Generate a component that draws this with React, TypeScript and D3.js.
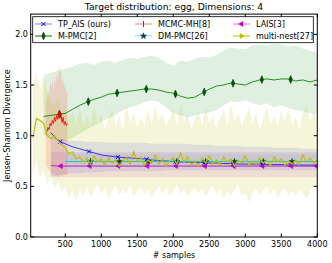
import React, { useEffect, useRef } from 'react';
import * as d3 from 'd3';

// chart data
const xTicks = [500, 1000, 1500, 2000, 2500, 3000, 3500, 4000];
const yTicks = [0, 0.5, 1.0, 1.5, 2.0];

const names = ['TP_AIS (ours)', 'MCMC-MH[8]', 'LAIS[3]', 'M-PMC[2]', 'DM-PMC[26]', 'multi-nest[27]'];

// TP_AIS
const tpSamples = d3.range(300, 4001, 100);
const tpMean = [1.03, 0.95, 0.92, 0.89, 0.87, 0.85, 0.83, 0.81, 0.80, 0.79, 0.785, 0.78, 0.775, 0.77, 0.76, 0.755, 0.75, 0.745, 0.74, 0.74,
  0.735, 0.735, 0.73, 0.73, 0.725, 0.725, 0.72, 0.72, 0.72, 0.72, 0.715, 0.715, 0.715, 0.71, 0.71, 0.71, 0.71, 0.71];
const tpUpper = [0.99, 0.97, 0.96, 0.95, 0.95, 0.94, 0.94, 0.94, 0.93, 0.93, 0.93, 0.93, 0.93, 0.93, 0.92, 0.92, 0.92, 0.92, 0.92, 0.92,
  0.91, 0.91, 0.91, 0.90, 0.90, 0.90, 0.90, 0.89, 0.89, 0.89, 0.89, 0.88, 0.88, 0.88, 0.88, 0.87, 0.87, 0.87];
const tpLower = [0.60, 0.61, 0.62, 0.63, 0.63, 0.64, 0.64, 0.64, 0.65, 0.65, 0.65, 0.65, 0.65, 0.65, 0.65, 0.65, 0.66, 0.66, 0.66, 0.66,
  0.66, 0.66, 0.66, 0.66, 0.66, 0.66, 0.66, 0.66, 0.66, 0.66, 0.66, 0.66, 0.66, 0.66, 0.66, 0.66, 0.66, 0.66];
const tpMarks = [430, 830, 1230, 1630, 2030, 2430, 2830, 3230, 3630];

// MCMC-MH
const mhSamples = d3.range(230, 531, 15);
const mhMean = [1.01, 1.04, 1.08, 1.06, 1.12, 1.10, 1.15, 1.12, 1.18, 1.14, 1.20, 1.16, 1.24, 1.19, 1.22, 1.13, 1.18, 1.11, 1.14, 1.10, 1.12];
const mhUpper = [1.30, 1.38, 1.45, 1.40, 1.52, 1.48, 1.55, 1.45, 1.58, 1.50, 1.62, 1.55, 1.73, 1.60, 1.68, 1.52, 1.58, 1.45, 1.52, 1.42, 1.45];
const mhLower = [0.72, 0.70, 0.66, 0.68, 0.63, 0.65, 0.61, 0.64, 0.60, 0.62, 0.59, 0.61, 0.58, 0.60, 0.62, 0.59, 0.63, 0.60, 0.62, 0.61, 0.63];
const mhMarks = [430];

// LAIS
const laisSamples = d3.range(300, 4001, 100);
const laisMean = [0.705, 0.70, 0.70, 0.70, 0.70, 0.70, 0.70, 0.70, 0.70, 0.70, 0.70, 0.70, 0.70, 0.70, 0.70, 0.70, 0.70, 0.70, 0.70, 0.70,
  0.70, 0.70, 0.70, 0.70, 0.70, 0.70, 0.70, 0.70, 0.70, 0.70, 0.70, 0.70, 0.70, 0.70, 0.70, 0.70, 0.70, 0.70];
const laisUpper = [0.84, 0.84, 0.84, 0.84, 0.84, 0.84, 0.84, 0.84, 0.84, 0.84, 0.84, 0.84, 0.84, 0.84, 0.84, 0.84, 0.84, 0.84, 0.84, 0.84,
  0.84, 0.84, 0.84, 0.84, 0.84, 0.84, 0.84, 0.84, 0.84, 0.84, 0.84, 0.84, 0.84, 0.84, 0.84, 0.84, 0.84, 0.84];
const laisLower = [0.59, 0.59, 0.59, 0.59, 0.59, 0.59, 0.59, 0.59, 0.59, 0.59, 0.59, 0.59, 0.59, 0.59, 0.59, 0.59, 0.59, 0.59, 0.59, 0.59,
  0.59, 0.59, 0.59, 0.59, 0.59, 0.59, 0.59, 0.59, 0.59, 0.59, 0.59, 0.59, 0.59, 0.59, 0.59, 0.59, 0.59, 0.59];
const laisMarks = [440, 840, 1240, 1640, 2040, 2440, 2840, 3240, 3640, 3990];

// M-PMC
const pmcSamples = d3.range(200, 4001, 100);
const pmcMean = [1.19, 1.20, 1.21, 1.22, 1.26, 1.30, 1.33, 1.36, 1.38, 1.41, 1.42, 1.43, 1.44, 1.45, 1.46, 1.46, 1.45, 1.43, 1.42, 1.39,
  1.37, 1.38, 1.42, 1.46, 1.49, 1.50, 1.52, 1.51, 1.50, 1.53, 1.55, 1.56, 1.55, 1.56, 1.56, 1.54, 1.55, 1.53, 1.55];
const pmcUpper = [1.60, 1.62, 1.64, 1.66, 1.68, 1.71, 1.72, 1.70, 1.73, 1.74, 1.72, 1.75, 1.77, 1.76, 1.78, 1.79, 1.77, 1.72, 1.69, 1.74,
  1.73, 1.76, 1.78, 1.77, 1.80, 1.84, 1.87, 1.86, 1.85, 1.89, 1.90, 1.89, 1.91, 1.90, 1.88, 1.89, 1.86, 1.84, 1.82];
const pmcLower = [1.02, 0.98, 0.95, 0.95, 0.98, 1.02, 1.06, 1.10, 1.14, 1.17, 1.21, 1.25, 1.28, 1.30, 1.33, 1.35, 1.33, 1.28, 1.22, 1.20,
  1.18, 1.20, 1.22, 1.23, 1.25, 1.30, 1.34, 1.33, 1.35, 1.32, 1.30, 1.32, 1.28, 1.30, 1.27, 1.25, 1.24, 1.22, 1.22];
const pmcMarks = [420, 820, 1220, 1625, 2030, 2430, 2830, 3230, 3630];

// DM-PMC
const dmSamples = d3.range(500, 4001, 100);
const dmMean = [0.745, 0.745, 0.745, 0.745, 0.745, 0.745, 0.745, 0.745, 0.745, 0.745, 0.745, 0.745, 0.745, 0.745, 0.745, 0.745, 0.745, 0.745,
  0.745, 0.745, 0.745, 0.745, 0.745, 0.745, 0.745, 0.745, 0.745, 0.745, 0.745, 0.745, 0.745, 0.745, 0.745, 0.745, 0.745, 0.745];
const dmUpper = [0.82, 0.82, 0.82, 0.82, 0.82, 0.82, 0.82, 0.82, 0.82, 0.82, 0.82, 0.82, 0.82, 0.82, 0.82, 0.82, 0.82, 0.82,
  0.82, 0.82, 0.82, 0.82, 0.82, 0.82, 0.82, 0.82, 0.82, 0.82, 0.82, 0.82, 0.82, 0.82, 0.82, 0.82, 0.82, 0.82];
const dmLower = [0.69, 0.69, 0.69, 0.69, 0.69, 0.69, 0.69, 0.69, 0.69, 0.69, 0.69, 0.69, 0.69, 0.69, 0.69, 0.69, 0.69, 0.69,
  0.69, 0.69, 0.69, 0.69, 0.69, 0.69, 0.69, 0.69, 0.69, 0.69, 0.69, 0.69, 0.69, 0.69, 0.69, 0.69, 0.69, 0.69];
const dmMarks = [850, 1250, 1650, 2050, 2450, 2850, 3250, 3650];

// multi-nest
const nestSamples = d3.range(50, 4001, 50);
const nestMean = [0.98, 1.17, 1.15, 1.12, 1.00, 0.97, 1.00, 0.95, 0.91, 0.88, 0.82, 0.84, 0.77, 0.79, 0.74, 0.78, 0.72, 0.80, 0.74, 0.77,
  0.71, 0.78, 0.73, 0.76, 0.70, 0.75, 0.78, 0.72, 0.84, 0.74, 0.79, 0.71, 0.76, 0.73, 0.81, 0.72, 0.77, 0.70, 0.75, 0.78,
  0.72, 0.83, 0.74, 0.79, 0.71, 0.75, 0.70, 0.78, 0.73, 0.80, 0.72, 0.76, 0.71, 0.79, 0.74, 0.77, 0.70, 0.76, 0.73, 0.80,
  0.71, 0.75, 0.72, 0.78, 0.73, 0.76, 0.70, 0.79, 0.74, 0.77, 0.71, 0.75, 0.72, 0.76, 0.71, 0.81, 0.74, 0.78, 0.73, 0.76];
const nestUpper = [1.50, 1.62, 1.45, 1.58, 1.42, 1.35, 1.28, 1.38, 1.22, 1.30, 1.15, 1.25, 1.12, 1.28, 1.10, 1.20, 1.08, 1.30, 1.12, 1.22,
  1.06, 1.18, 1.27, 1.10, 1.20, 1.05, 1.31, 1.12, 1.24, 1.08, 1.18, 1.10, 1.25, 1.12, 1.30, 1.15, 1.22, 1.08, 1.17, 1.27,
  1.10, 1.32, 1.14, 1.21, 1.06, 1.16, 1.25, 1.10, 1.28, 1.12, 1.20, 1.07, 1.18, 1.26, 1.11, 1.30, 1.14, 1.23, 1.09, 1.19,
  1.28, 1.12, 1.22, 1.06, 1.17, 1.29, 1.11, 1.20, 1.08, 1.24, 1.13, 1.27, 1.10, 1.19, 1.05, 1.22, 1.30, 1.14, 1.26, 1.18];
const nestLower = [0.62, 0.75, 0.58, 0.66, 0.52, 0.60, 0.48, 0.55, 0.44, 0.50, 0.38, 0.46, 0.36, 0.47, 0.41, 0.50, 0.40, 0.45, 0.53, 0.42,
  0.48, 0.39, 0.46, 0.51, 0.41, 0.47, 0.43, 0.52, 0.40, 0.46, 0.49, 0.42, 0.47, 0.39, 0.45, 0.50, 0.43, 0.48, 0.41, 0.46,
  0.52, 0.42, 0.47, 0.40, 0.45, 0.49, 0.43, 0.47, 0.40, 0.46, 0.50, 0.42, 0.48, 0.38, 0.45, 0.41, 0.47, 0.52, 0.40, 0.44,
  0.34, 0.43, 0.48, 0.41, 0.46, 0.50, 0.42, 0.47, 0.39, 0.45, 0.49, 0.41, 0.46, 0.40, 0.47, 0.43, 0.38, 0.45, 0.50, 0.44];

const W = 332, H = 263;
const font = 'DejaVu Sans, sans-serif';

function valueAt(xs: number[], ys: number[], v: number) {
  const i = Math.max(1, Math.min(xs.length - 1, d3.bisectLeft(xs, v)));
  const t = (v - xs[i - 1]) / (xs[i] - xs[i - 1]);
  return ys[i - 1] + t * (ys[i] - ys[i - 1]);
}

function drawMarker(g: any, kind: string, cx: number, cy: number, color: string, edge: string) {
  if (kind === 'x') {
    g.append('path').attr('d', d3.symbol(d3.symbolTimes, 12)()).attr('transform', `translate(${cx},${cy})`)
      .attr('fill', 'none').attr('stroke', color).attr('stroke-width', 1)
  } else if (kind === '+') {
    g.append('path').attr('d', `M0,-3V3`).attr('transform', `translate(${cx},${cy})`)
      .attr('fill', 'none').attr('stroke', color).attr('stroke-width', 1)
  } else if (kind === 'd') {
    g.append('path').attr('d', d3.symbol(d3.symbolDiamond, 18)()).attr('transform', `translate(${cx},${cy}) scale(0.75,1)`)
      .attr('fill', edge).attr('stroke', edge).attr('stroke-width', 0.8)
  } else if (kind === '*') {
    g.append('path').attr('d', d3.symbol(d3.symbolStar, 12)()).attr('transform', `translate(${cx},${cy})`)
      .attr('fill', edge).attr('stroke', edge).attr('stroke-width', 0.5)
  } else if (kind === '<' || kind === '>') {
    const r = kind === '<' ? -90 : 90
    g.append('path').attr('d', d3.symbol(d3.symbolTriangle, 11)()).attr('transform', `translate(${cx},${cy}) rotate(${r})`)
      .attr('fill', color).attr('stroke', color).attr('stroke-width', 0.5)
  }
}

export default function App() {
  const ref = useRef<SVGSVGElement>(null)

  useEffect(() => {
    const svg = d3.select(ref.current)
    svg.selectAll('*').remove()

    const left = 30.7, right = 317.3, top = 14.1, bottom = 237
    const x = d3.scaleLinear().domain([20, 4000]).range([left, right])
    const y = d3.scaleLinear().domain([0, 2.2]).range([bottom, top])

    const series = [
      { xs: tpSamples, m: tpMean, lo: tpLower, hi: tpUpper, color: '#0000ff', band: 0.1, lineOp: 0.75, marker: 'x', edge: '#0000ff', marks: tpMarks },
      { xs: pmcSamples, m: pmcMean, lo: pmcLower, hi: pmcUpper, color: '#008000', band: 0.12, lineOp: 0.85, marker: 'd', edge: '#0b4d0b', marks: pmcMarks },
      { xs: mhSamples, m: mhMean, lo: mhLower, hi: mhUpper, color: '#ff0000', band: 0.13, lineOp: 0.85, marker: '+', edge: '#ff0000', marks: mhMarks },
      { xs: dmSamples, m: dmMean, lo: dmLower, hi: dmUpper, color: '#00bfbf', band: 0.1, lineOp: 0.85, marker: '*', edge: '#0b3d3d', marks: dmMarks },
      { xs: laisSamples, m: laisMean, lo: laisLower, hi: laisUpper, color: '#bf00bf', band: 0.1, lineOp: 0.85, marker: '<', edge: '#bf00bf', marks: laisMarks },
      { xs: nestSamples, m: nestMean, lo: nestLower, hi: nestUpper, color: '#bfbf00', band: 0.15, lineOp: 1, marker: '>', edge: '#bfbf00', marks: [] as number[] },
    ]

    svg.append('rect').attr('width', W).attr('height', H).attr('fill', '#fff')

    svg.append('defs').append('clipPath').attr('id', 'plotclip')
      .append('rect').attr('x', left).attr('y', top).attr('width', right - left).attr('height', bottom - top)

    const plot = svg.append('g').attr('clip-path', 'url(#plotclip)')

    // bands
    series.forEach(s => {
      plot.append('path')
        .attr('d', d3.area<number>().x(i => x(s.xs[i])).y0(i => y(s.lo[i])).y1(i => y(s.hi[i]))(d3.range(s.xs.length)))
        .attr('fill', s.color).attr('fill-opacity', s.band)
    })
    // lines + markers
    series.forEach(s => {
      plot.append('path')
        .attr('d', d3.line<number>().x(i => x(s.xs[i])).y(i => y(s.m[i]))(d3.range(s.xs.length)))
        .attr('fill', 'none').attr('stroke', s.color).attr('stroke-width', s.marker === '>' ? 1.2 : 1).attr('stroke-opacity', s.lineOp)
      s.marks.forEach(v => drawMarker(plot, s.marker, x(v), y(valueAt(s.xs, s.m, v)), s.color, s.edge))
    })

    // frame and ticks (inside, all four sides)
    svg.append('rect').attr('x', left).attr('y', top).attr('width', right - left).attr('height', bottom - top)
      .attr('fill', 'none').attr('stroke', '#000').attr('stroke-width', 1)
    const tl = 3.5
    xTicks.forEach(t => {
      svg.append('line').attr('x1', x(t)).attr('x2', x(t)).attr('y1', bottom).attr('y2', bottom - tl).attr('stroke', '#000')
      svg.append('line').attr('x1', x(t)).attr('x2', x(t)).attr('y1', top).attr('y2', top + tl).attr('stroke', '#000')
      svg.append('text').attr('x', x(t)).attr('y', bottom + 10).attr('text-anchor', 'middle')
        .attr('font-family', font).attr('font-size', 8).text(t)
    })
    yTicks.forEach(t => {
      svg.append('line').attr('x1', left).attr('x2', left + tl).attr('y1', y(t)).attr('y2', y(t)).attr('stroke', '#000')
      svg.append('line').attr('x1', right).attr('x2', right - tl).attr('y1', y(t)).attr('y2', y(t)).attr('stroke', '#000')
      svg.append('text').attr('x', left - 2.8).attr('y', y(t) + 2.9).attr('text-anchor', 'end')
        .attr('font-family', font).attr('font-size', 8).text(d3.format('.1f')(t))
    })

    // labels
    svg.append('text').attr('x', (left + right) / 2).attr('y', 10).attr('text-anchor', 'middle')
      .attr('font-family', font).attr('font-size', 9.2).text('Target distribution: egg, Dimensions: 4')
    svg.append('text').attr('x', (left + right) / 2).attr('y', 257.5).attr('text-anchor', 'middle')
      .attr('font-family', font).attr('font-size', 8).text('# samples')
    svg.append('text').attr('transform', `translate(9.5,${(top + bottom) / 2}) rotate(-90)`).attr('text-anchor', 'middle')
      .attr('font-family', font).attr('font-size', 8).text('Jensen-Shannon Divergence')

    // legend, 3 columns (matplotlib fills column-wise)
    const lg = svg.append('g')
    lg.append('rect').attr('x', 32.7).attr('y', 16.7).attr('width', 280.6).attr('height', 26)
      .attr('fill', '#fff').attr('stroke', '#000').attr('stroke-width', 0.8)
    const colX = [35, 135, 233]
    const rowY = [24, 36]
    const slotSeries = [0, 2, 4, 1, 3, 5]
    names.forEach((n, k) => {
      const row = Math.floor(k / 3), col = k % 3
      const s = series[slotSeries[k]]
      const hx = colX[col], hy = rowY[row]
      const op = (s.marker === 'd' || s.marker === '>') ? 1 : 0.5
      lg.append('line').attr('x1', hx).attr('x2', hx + 17).attr('y1', hy).attr('y2', hy)
        .attr('stroke', s.color).attr('stroke-width', 1).attr('stroke-opacity', op)
      drawMarker(lg, s.marker, hx + 8.5, hy, s.color, s.edge)
      lg.append('text').attr('x', hx + 23).attr('y', hy + 2.9).attr('font-family', font).attr('font-size', 8).text(n)
    })
  }, [])

  return <svg ref={ref} width={W} height={H} style={{ position: 'absolute', left: 0, top: 0 }} />
}
